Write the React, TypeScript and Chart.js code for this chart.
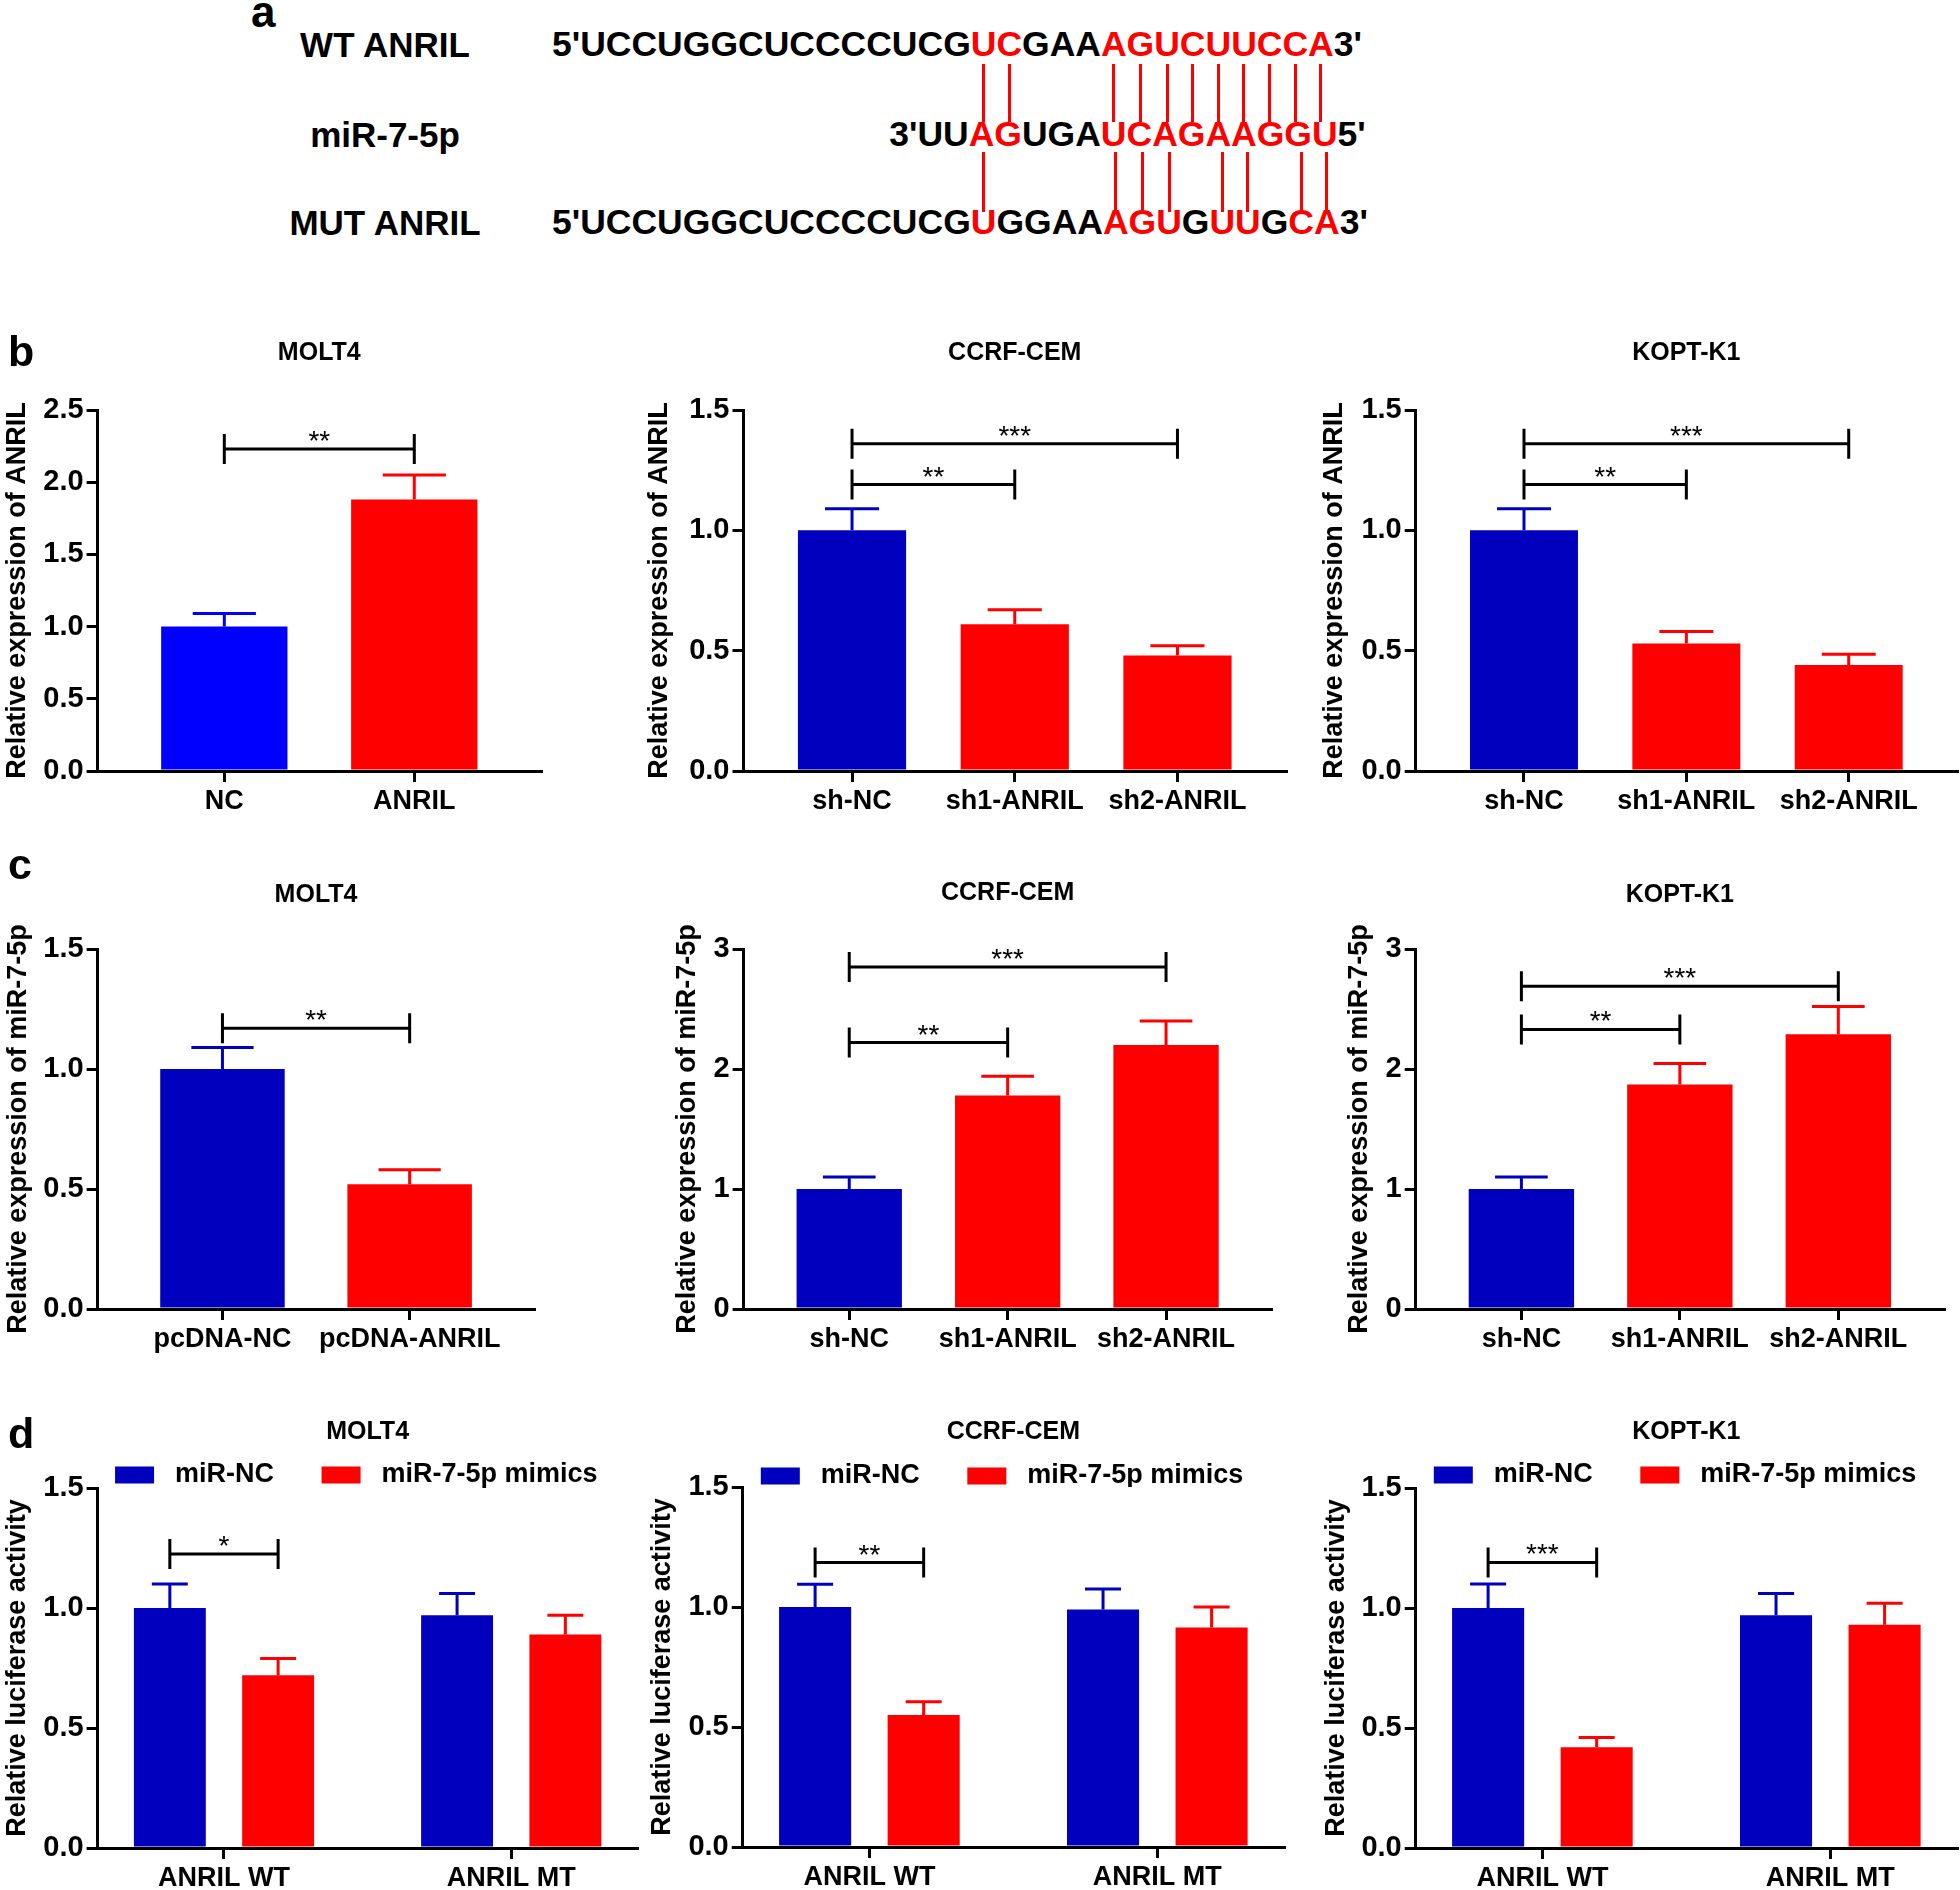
import React, { useEffect, useLayoutEffect, useRef, useState } from 'react';
import { Chart, registerables } from 'chart.js';

Chart.register(...registerables);

const FONT = "'Liberation Sans', Arial, Helvetica, sans-serif";
Chart.defaults.font.family = FONT;
Chart.defaults.color = '#000';

const RED = '#FF0000';
const BLUE_BRIGHT = '#0000FF';
const BLUE = '#0000BE';

// ---------- panel a: sequences ----------
const WT_SEQ = 'UCCUGGCUCCCCUCGUCGAAAGUCUUCCA';
const WT_RED = [15, 16, 20, 21, 22, 23, 24, 25, 26, 27, 28];
const MIR_SEQ = 'UUAGUGAUCAGAAGGU';
const MIR_RED = [2, 3, 7, 8, 9, 10, 11, 12, 13, 14, 15];
const MUT_SEQ = 'UCCUGGCUCCCCUCGUGGAAAGUGUUGCA';
const MUT_RED = [15, 20, 21, 22, 24, 25, 27, 28];
const MIR_OFFSET = 13; // miR letter k pairs with ANRIL letter k + 13

// ---------- panel b: relative expression of ANRIL ----------
const bMoltCats = ['NC', 'ANRIL'];
const bMoltMean = [1.0, 1.88];
const bMoltSd = [0.09, 0.17];
const shCats = ['sh-NC', 'sh1-ANRIL', 'sh2-ANRIL'];
const bCcrfMean = [1.0, 0.61, 0.48];
const bCcrfSd = [0.09, 0.06, 0.04];
const bKoptMean = [1.0, 0.53, 0.44];
const bKoptSd = [0.09, 0.05, 0.045];

// ---------- panel c: relative expression of miR-7-5p ----------
const cMoltCats = ['pcDNA-NC', 'pcDNA-ANRIL'];
const cMoltMean = [1.0, 0.52];
const cMoltSd = [0.09, 0.06];
const cCcrfMean = [1.0, 1.78, 2.2];
const cCcrfSd = [0.1, 0.16, 0.2];
const cKoptMean = [1.0, 1.87, 2.29];
const cKoptSd = [0.1, 0.175, 0.23];

// ---------- panel d: luciferase activity ----------
const dCats = ['ANRIL WT', 'ANRIL MT'];
const dSeriesNames = ['miR-NC', 'miR-7-5p mimics'];
const dMoltNc = [1.0, 0.97];
const dMoltNcSd = [0.1, 0.09];
const dMoltMim = [0.72, 0.89];
const dMoltMimSd = [0.07, 0.08];
const dCcrfNc = [1.0, 0.99];
const dCcrfNcSd = [0.095, 0.085];
const dCcrfMim = [0.55, 0.915];
const dCcrfMimSd = [0.055, 0.085];
const dKoptNc = [1.0, 0.97];
const dKoptNcSd = [0.1, 0.09];
const dKoptMim = [0.42, 0.93];
const dKoptMimSd = [0.04, 0.09];

// significance brackets: [dataset, index] to [dataset, index], at value y
type Bracket = { a: [number, number]; b: [number, number]; y: number; text: string };
const bMoltBr: Bracket[] = [{ a: [0, 0], b: [0, 1], y: 2.23, text: '**' }];
const bCcrfBr: Bracket[] = [
  { a: [0, 0], b: [0, 1], y: 1.19, text: '**' },
  { a: [0, 0], b: [0, 2], y: 1.36, text: '***' },
];
const bKoptBr: Bracket[] = [
  { a: [0, 0], b: [0, 1], y: 1.19, text: '**' },
  { a: [0, 0], b: [0, 2], y: 1.36, text: '***' },
];
const cMoltBr: Bracket[] = [{ a: [0, 0], b: [0, 1], y: 1.17, text: '**' }];
const cCcrfBr: Bracket[] = [
  { a: [0, 0], b: [0, 1], y: 2.22, text: '**' },
  { a: [0, 0], b: [0, 2], y: 2.85, text: '***' },
];
const cKoptBr: Bracket[] = [
  { a: [0, 0], b: [0, 1], y: 2.33, text: '**' },
  { a: [0, 0], b: [0, 2], y: 2.69, text: '***' },
];
const dMoltBr: Bracket[] = [{ a: [0, 0], b: [1, 0], y: 1.225, text: '*' }];
const dCcrfBr: Bracket[] = [{ a: [0, 0], b: [1, 0], y: 1.185, text: '**' }];
const dKoptBr: Bracket[] = [{ a: [0, 0], b: [1, 0], y: 1.19, text: '***' }];

type Series = { label: string; values: number[]; errors: number[]; colors: string | string[] };
type Geom = {
  yTitleX: number; axisX: number; axisEnd: number; plotTop: number; y0: number;
  titleY: number; legendY?: number; margin: number; canvasTop: number; xh: number;
};
type PanelSpec = {
  key: string; title: string; yTitle: string; cats: string[]; series: Series[]; brackets: Bracket[];
  yMax: number; yStep: number; yDec: number; catPct: number; barPct: number; geom: Geom;
};

const YT_B = 'Relative expression of ANRIL';
const YT_C = 'Relative expression of miR-7-5p';
const YT_D = 'Relative luciferase activity';

const PANELS: PanelSpec[] = [
  {
    key: 'b1', title: 'MOLT4', yTitle: YT_B, cats: bMoltCats,
    series: [{ label: 'ANRIL', values: bMoltMean, errors: bMoltSd, colors: [BLUE_BRIGHT, RED] }],
    brackets: bMoltBr, yMax: 2.5, yStep: 0.5, yDec: 1, catPct: 1, barPct: 0.665,
    geom: { yTitleX: 17, axisX: 97.6, axisEnd: 541, plotTop: 410, y0: 771, titleY: 353, margin: 0.667, canvasTop: 310, xh: 60 },
  },
  {
    key: 'b2', title: 'CCRF-CEM', yTitle: YT_B, cats: shCats,
    series: [{ label: 'ANRIL', values: bCcrfMean, errors: bCcrfSd, colors: [BLUE, RED, RED] }],
    brackets: bCcrfBr, yMax: 1.5, yStep: 0.5, yDec: 1, catPct: 1, barPct: 0.665,
    geom: { yTitleX: 659, axisX: 743.5, axisEnd: 1286, plotTop: 410, y0: 771, titleY: 353, margin: 0.667, canvasTop: 310, xh: 60 },
  },
  {
    key: 'b3', title: 'KOPT-K1', yTitle: YT_B, cats: shCats,
    series: [{ label: 'ANRIL', values: bKoptMean, errors: bKoptSd, colors: [BLUE, RED, RED] }],
    brackets: bKoptBr, yMax: 1.5, yStep: 0.5, yDec: 1, catPct: 1, barPct: 0.665,
    geom: { yTitleX: 1334, axisX: 1415.7, axisEnd: 1957, plotTop: 410, y0: 771, titleY: 353, margin: 0.667, canvasTop: 310, xh: 60 },
  },
  {
    key: 'c1', title: 'MOLT4', yTitle: YT_C, cats: cMoltCats,
    series: [{ label: 'miR-7-5p', values: cMoltMean, errors: cMoltSd, colors: [BLUE, RED] }],
    brackets: cMoltBr, yMax: 1.5, yStep: 0.5, yDec: 1, catPct: 1, barPct: 0.665,
    geom: { yTitleX: 18, axisX: 97.6, axisEnd: 534.5, plotTop: 949, y0: 1309, titleY: 895, margin: 0.667, canvasTop: 849, xh: 60 },
  },
  {
    key: 'c2', title: 'CCRF-CEM', yTitle: YT_C, cats: shCats,
    series: [{ label: 'miR-7-5p', values: cCcrfMean, errors: cCcrfSd, colors: [BLUE, RED, RED] }],
    brackets: cCcrfBr, yMax: 3, yStep: 1, yDec: 0, catPct: 1, barPct: 0.665,
    geom: { yTitleX: 687, axisX: 743.6, axisEnd: 1271.7, plotTop: 949, y0: 1309, titleY: 893, margin: 0.667, canvasTop: 849, xh: 60 },
  },
  {
    key: 'c3', title: 'KOPT-K1', yTitle: YT_C, cats: shCats,
    series: [{ label: 'miR-7-5p', values: cKoptMean, errors: cKoptSd, colors: [BLUE, RED, RED] }],
    brackets: cKoptBr, yMax: 3, yStep: 1, yDec: 0, catPct: 1, barPct: 0.665,
    geom: { yTitleX: 1359, axisX: 1415.7, axisEnd: 1944, plotTop: 949, y0: 1309, titleY: 895, margin: 0.667, canvasTop: 849, xh: 60 },
  },
  {
    key: 'd1', title: 'MOLT4', yTitle: YT_D, cats: dCats,
    series: [
      { label: dSeriesNames[0], values: dMoltNc, errors: dMoltNcSd, colors: BLUE },
      { label: dSeriesNames[1], values: dMoltMim, errors: dMoltMimSd, colors: RED },
    ],
    brackets: dMoltBr, yMax: 1.5, yStep: 0.5, yDec: 1, catPct: 0.754, barPct: 0.664,
    geom: { yTitleX: 17, axisX: 97.6, axisEnd: 637.6, plotTop: 1488, y0: 1848, titleY: 1432.5, legendY: 1475, margin: 0.44, canvasTop: 1400, xh: 42 },
  },
  {
    key: 'd2', title: 'CCRF-CEM', yTitle: YT_D, cats: dCats,
    series: [
      { label: dSeriesNames[0], values: dCcrfNc, errors: dCcrfNcSd, colors: BLUE },
      { label: dSeriesNames[1], values: dCcrfMim, errors: dCcrfMimSd, colors: RED },
    ],
    brackets: dCcrfBr, yMax: 1.5, yStep: 0.5, yDec: 1, catPct: 0.754, barPct: 0.664,
    geom: { yTitleX: 662, axisX: 742.7, axisEnd: 1284, plotTop: 1487, y0: 1847, titleY: 1432, legendY: 1476, margin: 0.44, canvasTop: 1400, xh: 43 },
  },
  {
    key: 'd3', title: 'KOPT-K1', yTitle: YT_D, cats: dCats,
    series: [
      { label: dSeriesNames[0], values: dKoptNc, errors: dKoptNcSd, colors: BLUE },
      { label: dSeriesNames[1], values: dKoptMim, errors: dKoptMimSd, colors: RED },
    ],
    brackets: dKoptBr, yMax: 1.5, yStep: 0.5, yDec: 1, catPct: 0.754, barPct: 0.664,
    geom: { yTitleX: 1336, axisX: 1415.7, axisEnd: 1957, plotTop: 1488, y0: 1848, titleY: 1432, legendY: 1475, margin: 0.44, canvasTop: 1400, xh: 42 },
  },
];

const errorBarsPlugin = {
  id: 'errorBars',
  afterDatasetsDraw(chart: any) {
    const ctx = chart.ctx;
    const yScale = chart.scales.y;
    chart.data.datasets.forEach((ds: any, di: number) => {
      const meta = chart.getDatasetMeta(di);
      meta.data.forEach((bar: any, i: number) => {
        const p = bar.getProps(['x', 'y', 'width'], true);
        const mean = ds.data[i].y;
        const topPx = yScale.getPixelForValue(mean + ds.errors[i]);
        const color = Array.isArray(ds.backgroundColor) ? ds.backgroundColor[i] : ds.backgroundColor;
        const half = p.width / 4;
        ctx.save();
        ctx.strokeStyle = color;
        ctx.lineWidth = 3;
        ctx.beginPath();
        ctx.moveTo(p.x, p.y);
        ctx.lineTo(p.x, topPx);
        ctx.moveTo(p.x - half, topPx);
        ctx.lineTo(p.x + half, topPx);
        ctx.stroke();
        ctx.restore();
      });
    });
  },
};

function makeBracketPlugin(items: Bracket[]) {
  return {
    id: 'sigBrackets',
    afterDatasetsDraw(chart: any) {
      const ctx = chart.ctx;
      const yScale = chart.scales.y;
      items.forEach((b) => {
        const x1 = chart.getDatasetMeta(b.a[0]).data[b.a[1]].x;
        const x2 = chart.getDatasetMeta(b.b[0]).data[b.b[1]].x;
        const yy = yScale.getPixelForValue(b.y);
        ctx.save();
        ctx.strokeStyle = '#000';
        ctx.lineWidth = 3;
        ctx.beginPath();
        ctx.moveTo(x1, yy);
        ctx.lineTo(x2, yy);
        ctx.moveTo(x1, yy - 15);
        ctx.lineTo(x1, yy + 15);
        ctx.moveTo(x2, yy - 15);
        ctx.lineTo(x2, yy + 15);
        ctx.stroke();
        ctx.fillStyle = '#000';
        ctx.font = `28px ${FONT}`;
        ctx.textAlign = 'center';
        ctx.textBaseline = 'alphabetic';
        ctx.fillText(b.text, (x1 + x2) / 2, yy + 1);
        ctx.restore();
      });
    },
  };
}

// legend label spacing (trailing blanks widen the gap between the two entries)
const LEGEND_LEAD = ' ';
const LEGEND_TRAIL = ['     ', '   '];

function BarPanel({ spec }: { spec: PanelSpec }) {
  const ref = useRef<HTMLCanvasElement>(null);
  const g = spec.geom;
  const left = Math.round(g.yTitleX - 17.2);
  const top = g.canvasTop;
  const width = Math.ceil(g.axisEnd - left + 2);
  const height = Math.round(g.y0 - top + g.xh);

  useEffect(() => {
    const n = spec.cats.length;
    const padRight = width - (g.axisEnd - left);
    const titleLH = 25 * 1.2;
    const titleTopPad = g.titleY - top - titleLH / 2;
    let titleBottomPad: number;
    let legendOpts: any;
    if (g.legendY !== undefined) {
      const legendPad = 10;
      const fs = 27;
      const legendTop = g.legendY - legendPad - fs / 2;
      titleBottomPad = legendTop - (g.titleY + titleLH / 2);
      legendOpts = {
        display: true,
        position: 'top',
        align: 'center',
        fullSize: false,
        maxHeight: g.plotTop - legendTop,
        labels: {
          boxWidth: 39,
          boxHeight: 17,
          padding: legendPad,
          color: '#000',
          font: { size: fs, weight: 'bold' },
          generateLabels: (chart: any) =>
            chart.data.datasets.map((ds: any, i: number) => ({
              text: LEGEND_LEAD + ds.label + (LEGEND_TRAIL[i] || ''),
              fillStyle: ds.backgroundColor,
              strokeStyle: ds.backgroundColor,
              lineWidth: 0,
              hidden: false,
              datasetIndex: i,
            })),
        },
      };
    } else {
      titleBottomPad = g.plotTop - (g.titleY + titleLH / 2);
      legendOpts = { display: false };
    }

    const gridOpts = {
      display: true,
      drawOnChartArea: false,
      drawTicks: true,
      tickLength: 11,
      tickWidth: 3,
      tickColor: '#000',
      lineWidth: 3,
      color: '#000',
      offset: false,
    };
    const borderOpts = { display: true, color: '#000', width: 3 };

    const chart = new Chart(ref.current as HTMLCanvasElement, {
      type: 'bar',
      data: {
        datasets: spec.series.map((s) => ({
          label: s.label,
          data: s.values.map((v, i) => ({ x: i, y: v })),
          errors: s.errors,
          backgroundColor: s.colors,
          borderWidth: 0,
          categoryPercentage: spec.catPct,
          barPercentage: spec.barPct,
          grouped: true,
        })) as any,
      },
      options: {
        responsive: false,
        animation: false,
        devicePixelRatio: 1,
        events: [],
        layout: { padding: { left: 0, right: padRight, top: 0, bottom: 0 } },
        plugins: {
          legend: legendOpts,
          tooltip: { enabled: false },
          title: {
            display: true,
            text: spec.title,
            color: '#000',
            fullSize: false,
            font: { size: 25, weight: 'bold' },
            padding: { top: titleTopPad, bottom: titleBottomPad },
          },
        },
        scales: {
          x: {
            type: 'linear',
            offset: false,
            bounds: 'data',
            min: -g.margin,
            max: n - 1 + g.margin,
            z: 1,
            afterBuildTicks: (axis: any) => {
              axis.ticks = spec.cats.map((_, i) => ({ value: i }));
            },
            afterFit: (axis: any) => {
              axis.height = g.xh;
            },
            ticks: {
              autoSkip: false,
              maxRotation: 0,
              minRotation: 0,
              padding: 3,
              color: '#000',
              font: { size: 27, weight: 'bold' },
              callback: (value: any) => spec.cats[Math.round(Number(value))],
            },
            grid: gridOpts,
            border: borderOpts,
          },
          y: {
            type: 'linear',
            min: 0,
            max: spec.yMax,
            z: 1,
            afterFit: (axis: any) => {
              axis.width = g.axisX - left;
            },
            ticks: {
              stepSize: spec.yStep,
              padding: 3,
              color: '#000',
              font: { size: 29, weight: 'bold' },
              callback: (value: any) => Number(value).toFixed(spec.yDec),
            },
            title: {
              display: true,
              text: spec.yTitle,
              color: '#000',
              font: { size: 27, weight: 'bold' },
              padding: { top: 1, bottom: 0 },
            },
            grid: gridOpts,
            border: borderOpts,
          },
        },
      } as any,
      plugins: [errorBarsPlugin, makeBracketPlugin(spec.brackets)],
    });
    return () => chart.destroy();
  }, []);

  return (
    <canvas
      ref={ref}
      width={width}
      height={height}
      style={{ position: 'absolute', left, top, width, height }}
    />
  );
}

const SEQ_FS = 35.5;

function SeqRow({ prefix, seq, red, suffix, rowRef, left, top }: any) {
  return (
    <div
      ref={rowRef}
      style={{
        position: 'absolute', left, top, whiteSpace: 'nowrap', fontSize: SEQ_FS,
        fontWeight: 'bold', lineHeight: 1, fontFamily: FONT, color: '#000',
      }}
    >
      <span>{prefix}</span>
      {seq.split('').map((ch: string, i: number) => (
        <span key={i} data-i={i} style={{ color: red.includes(i) ? RED : '#000' }}>{ch}</span>
      ))}
      <span>{suffix}</span>
    </div>
  );
}

function PanelA() {
  const wtRef = useRef<HTMLDivElement>(null);
  const mirRef = useRef<HTMLDivElement>(null);
  const mutRef = useRef<HTMLDivElement>(null);
  const [lay, setLay] = useState<{ shift: number; l1: number[]; l2: number[] }>({ shift: 0, l1: [], l2: [] });

  useLayoutEffect(() => {
    const centers = (el: HTMLElement | null) =>
      el ? Array.from(el.querySelectorAll('[data-i]')).map((s) => {
        const r = (s as HTMLElement).getBoundingClientRect();
        return r.left + r.width / 2;
      }) : [];
    const wt = centers(wtRef.current);
    const mir = centers(mirRef.current);
    const mut = centers(mutRef.current);
    let sum = 0;
    MIR_RED.forEach((k) => { sum += wt[k + MIR_OFFSET] - mir[k]; });
    const shift = sum / MIR_RED.length;
    setLay({ shift, l1: WT_RED.map((i) => wt[i]), l2: MUT_RED.map((i) => mut[i]) });
  }, []);

  const labelStyle: React.CSSProperties = {
    position: 'absolute', left: 235, width: 300, textAlign: 'center', fontSize: 35,
    fontWeight: 'bold', lineHeight: 1, whiteSpace: 'nowrap', fontFamily: FONT,
  };
  const rowTop = (c: number) => c - 0.4885 * SEQ_FS;
  return (
    <>
      <div style={{ ...labelStyle, top: rowTop(44) }}>WT ANRIL</div>
      <div style={{ ...labelStyle, top: rowTop(134) }}>miR-7-5p</div>
      <div style={{ ...labelStyle, top: rowTop(222) }}>MUT ANRIL</div>
      <SeqRow rowRef={wtRef} prefix="5'" seq={WT_SEQ} red={WT_RED} suffix="3'" left={552} top={rowTop(44)} />
      <SeqRow rowRef={mirRef} prefix="3'" seq={MIR_SEQ} red={MIR_RED} suffix="5'" left={895 + lay.shift} top={rowTop(134)} />
      <SeqRow rowRef={mutRef} prefix="5'" seq={MUT_SEQ} red={MUT_RED} suffix="3'" left={552} top={rowTop(222)} />
      {lay.l1.map((x, i) => (
        <div key={'l1' + i} style={{ position: 'absolute', left: x - 1.5, top: 64, width: 3, height: 58, background: RED }} />
      ))}
      {lay.l2.map((x, i) => (
        <div key={'l2' + i} style={{ position: 'absolute', left: x - 1.5, top: 152, width: 3, height: 60, background: RED }} />
      ))}
    </>
  );
}

function PanelLetter({ text, left, baseline, size }: { text: string; left: number; baseline: number; size: number }) {
  return (
    <div
      style={{
        position: 'absolute', left, top: baseline - 0.8465 * size, fontSize: size, lineHeight: 1,
        fontWeight: 'bold', fontFamily: FONT, color: '#000',
      }}
    >
      {text}
    </div>
  );
}

export default function App() {
  return (
    <div
      style={{
        position: 'absolute', left: 0, top: 0, width: 1960, height: 1890, background: '#fff',
        overflow: 'hidden', fontFamily: FONT,
      }}
    >
      {PANELS.map((p) => (
        <BarPanel key={p.key} spec={p} />
      ))}
      <PanelA />
      <PanelLetter text="a" left={251} baseline={27} size={44} />
      <PanelLetter text="b" left={8} baseline={366} size={43} />
      <PanelLetter text="c" left={8} baseline={879} size={43} />
      <PanelLetter text="d" left={8} baseline={1448} size={43} />
    </div>
  );
}
